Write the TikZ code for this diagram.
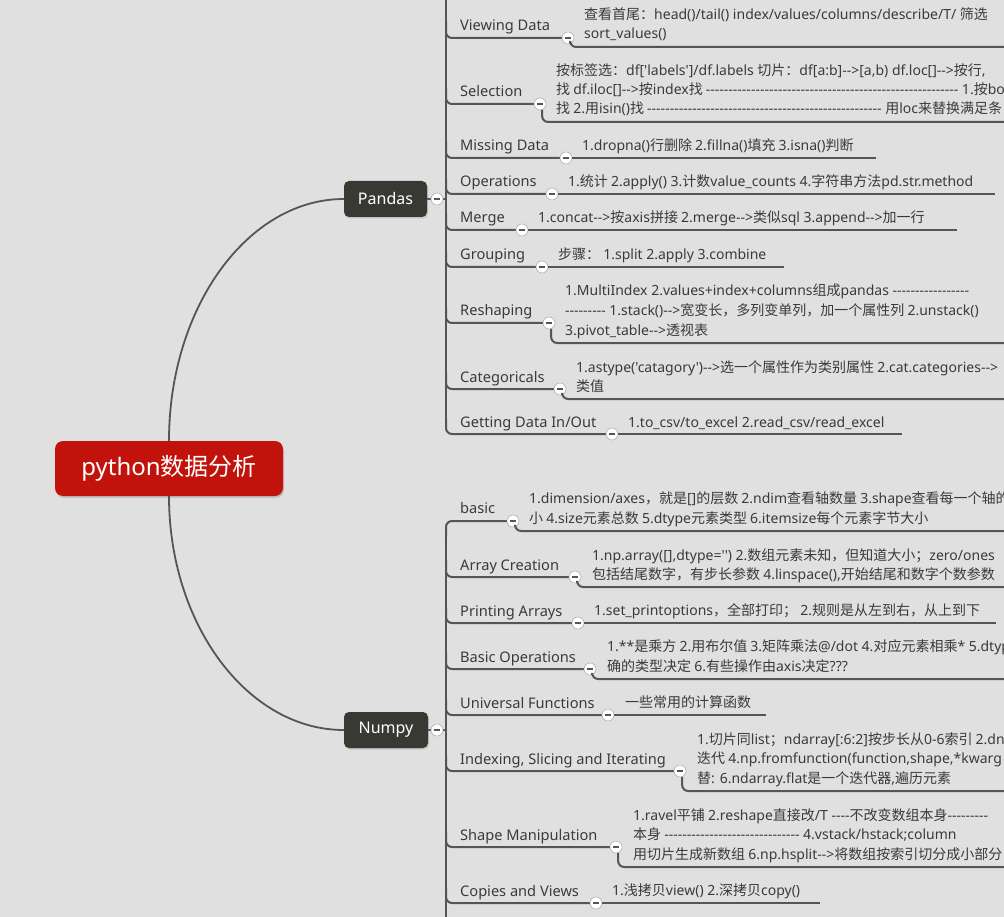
\documentclass[tikz,border=0pt]{standalone}
\usepackage{fontspec}
\setmainfont{Noto Sans}[Ligatures=TeXOff]
\newfontfamily\latf{Noto Sans}[Ligatures=TeXOff]
\newfontfamily\cjkf{Noto Sans CJK SC}[Ligatures=TeXOff]
\XeTeXinterchartokenstate=1
\newXeTeXintercharclass\cjkcls
\newcount\cjkc
\def\cjkrange#1#2{\cjkc=#1\relax\loop\XeTeXcharclass\cjkc=\cjkcls\relax\advance\cjkc by 1\relax\ifnum\cjkc<#2\relax\repeat}
\cjkrange{"3000}{"3040}
\cjkrange{"4E00}{"A000}
\cjkrange{"FF00}{"FFF0}
\XeTeXinterchartoks 0 \cjkcls = {\cjkf}
\XeTeXinterchartoks 4095 \cjkcls = {\cjkf}
\XeTeXinterchartoks \cjkcls 0 = {\latf}
\XeTeXinterchartoks 4095 0 = {\latf}
\usetikzlibrary{shadows}
\definecolor{bg}{HTML}{E0E0E0}
\definecolor{ln}{HTML}{555555}
\definecolor{tx}{HTML}{3A3A3A}
\definecolor{rootred}{HTML}{C1130B}
\definecolor{dark}{HTML}{393934}
\tikzset{
  br/.style={draw=ln, line width=2pt},
  lbl/.style={font=\fontsize{14.6}{14.6}\selectfont, text=tx, inner sep=0pt, anchor=base west},
  dsc/.style={font=\fontsize{14}{14}\selectfont, text=tx, inner sep=0pt, anchor=base west, yshift=-1.5pt},
  btn/.style={circle, fill=white, draw=black!30, line width=0.6pt, minimum size=12pt, inner sep=0pt,
    path picture={\draw[ln, line width=1.7pt] ([xshift=-3.3pt]path picture bounding box.center) -- ([xshift=3.3pt]path picture bounding box.center);}},
  topic/.style={rounded corners=5pt, fill=dark, text=white, font=\fontsize{16}{16}\selectfont, inner sep=0pt,
    minimum height=36pt, drop shadow={opacity=0.3, shadow xshift=1pt, shadow yshift=-1.5pt}},
  rootbox/.style={rounded corners=8pt, fill=rootred, text=white, font=\fontsize{24}{24}\selectfont, inner sep=0pt,
    minimum width=228pt, minimum height=55pt, drop shadow={opacity=0.3, shadow xshift=1pt, shadow yshift=-2pt}},
}
\newcommand\kid[4]{%
  \draw[br, rounded corners=6pt] (446,#2-16) |- (#4,#2);
  \node[lbl] (#1) at (460,#2-7) {#3};
  \node[btn] (#1b) at (#4,#2) {};
}
\newcommand\single[3]{\draw[br] (#1b) -- (#3,#2);}
\newcommand\multi[2]{\draw[br, rounded corners=6pt] (#1b.-70) |- (1012,#2);}
\begin{document}
\begin{tikzpicture}[x=1pt,y=-1pt]
\useasboundingbox (0,0) rectangle (1004,917);
\fill[bg] (0,0) rectangle (1004,917);

% root and topics
\node[rootbox] (root) at (169,468.5) {python数据分析};
\node[topic, minimum width=83pt] (pandas) at (385.5,199) {Pandas};
\node[topic, minimum width=84pt] (numpy) at (386,730) {Numpy};
\draw[ln, line width=1.8pt] (root.north) .. controls (169,307) and (248,199) .. (pandas.west);
\draw[ln, line width=1.8pt] (root.south) .. controls (169,625) and (248,730) .. (numpy.west);

% Pandas spine
\draw[br] (446,-5) -- (446,420);
\draw[br] (pandas.east) -- (446,199);
\node[btn] (pandasb) at (437,199) {};

\kid{vd}{38}{Viewing Data}{568}
\node[dsc] (vd1) at (584,18.5) {查看首尾：head()/tail() index/values/columns/describe/T/ 筛选};
\node[dsc] (vd2) at (584,37.5) {sort\_values()};
\multi{vd}{47}

\kid{sel}{104}{Selection}{540}
\node[dsc] (sel1) at (556,74.5) {按标签选：df['labels']/df.labels 切片：df[a:b]-->[a,b) df.loc[]-->按行,};
\node[dsc] (sel2) at (556,93.5) {找 df.iloc[]-->按index找 -------------------------------------------------------- 1.按boo};
\node[dsc] (sel3) at (556,112.5) {找 2.用isin()找 ---------------------------------------------------- 用loc来替换满足条};
\multi{sel}{122}

\kid{md}{158}{Missing Data}{566}
\node[dsc] (md1) at (582,149.5) {1.dropna()行删除 2.fillna()填充 3.isna()判断};
\single{md}{158}{876}

\kid{op}{194}{Operations}{552}
\node[dsc] (op1) at (568,185.5) {1.统计 2.apply() 3.计数value\_counts 4.字符串方法pd.str.method};
\single{op}{194}{995}

\kid{mg}{230}{Merge}{522}
\node[dsc] (mg1) at (538,221.5) {1.concat-->按axis拼接 2.merge-->类似sql 3.append-->加一行};
\single{mg}{230}{957}

\kid{gp}{267}{Grouping}{542}
\node[dsc] (gp1) at (558,258) {步骤： 1.split 2.apply 3.combine};
\single{gp}{267}{784}

\kid{rs}{323}{Reshaping}{549}
\node[dsc] (rs1) at (565,294.5) {1.MultiIndex 2.values+index+columns组成pandas -----------------};
\node[dsc] (rs2) at (565,314) {--------- 1.stack()-->宽变长，多列变单列，加一个属性列 2.unstack()};
\node[dsc] (rs3) at (565,333.5) {3.pivot\_table-->透视表};
\multi{rs}{343}

\kid{ct}{389}{Categoricals}{560}
\node[dsc] (ct1) at (576,370.5) {1.astype('catagory')-->选一个属性作为类别属性 2.cat.categories-->};
\node[dsc] (ct2) at (576,389.5) {类值};
\multi{ct}{399}

\kid{gd}{434}{Getting Data In/Out}{612}
\node[dsc] (gd1) at (628,425.5) {1.to\_csv/to\_excel 2.read\_csv/read\_excel};
\single{gd}{434}{902}

% Numpy spine
\draw[br] (446,530) -- (446,925);
\draw[br] (numpy.east) -- (446,730);
\node[btn] (numpyb) at (437,730) {};

\draw[br, rounded corners=6pt] (446,537) |- (513,521);
\node[lbl] (ba) at (460,513) {basic};
\node[btn] (bab) at (513,521) {};
\node[dsc] (ba1) at (529,501.5) {1.dimension/axes，就是[]的层数 2.ndim查看轴数量 3.shape查看每一个轴的};
\node[dsc] (ba2) at (529,521.5) {小 4.size元素总数 5.dtype元素类型 6.itemsize每个元素字节大小};
\multi{ba}{531}

\kid{ac}{577}{Array Creation}{575}
\node[dsc] (ac1) at (592,558.5) {1.np.array([],dtype='') 2.数组元素未知，但知道大小；zero/ones};
\node[dsc] (ac2) at (592,577.5) {包括结尾数字，有步长参数 4.linspace(),开始结尾和数字个数参数};
\multi{ac}{587}

\kid{pa}{623}{Printing Arrays}{578}
\node[dsc] (pa1) at (594,613.5) {1.set\_printoptions，全部打印； 2.规则是从左到右，从上到下};
\single{pa}{623}{996}

\kid{bo}{669}{Basic Operations}{590}
\node[dsc] (bo1) at (607,649.5) {1.**是乘方 2.用布尔值 3.矩阵乘法@/dot 4.对应元素相乘* 5.dtyp};
\node[dsc] (bo2) at (607,669.5) {确的类型决定 6.有些操作由axis决定???};
\multi{bo}{679}

\kid{uf}{715}{Universal Functions}{608}
\node[dsc] (uf1) at (625,705.5) {一些常用的计算函数};
\single{uf}{715}{766}

\kid{ix}{771}{Indexing, Slicing and Iterating}{680}
\node[dsc] (ix1) at (697,742.5) {1.切片同list；ndarray[:6:2]按步长从0-6索引 2.dn};
\node[dsc] (ix2) at (697,761.5) {迭代 4.np.fromfunction(function,shape,*kwarg};
\node[dsc] (ix3) at (697,781.5) {替: 6.ndarray.flat是一个迭代器,遍历元素};
\multi{ix}{791}

\kid{sm}{847}{Shape Manipulation}{616}
\node[dsc] (sm1) at (633,818.5) {1.ravel平铺 2.reshape直接改/T ----不改变数组本身---------};
\node[dsc] (sm2) at (633,837.5) {本身 ------------------------------ 4.vstack/hstack;column};
\node[dsc] (sm3) at (633,857.5) {用切片生成新数组 6.np.hsplit-->将数组按索引切分成小部分};
\multi{sm}{867}

\kid{cv}{903}{Copies and Views}{596}
\node[dsc] (cv1) at (612,893.5) {1.浅拷贝view() 2.深拷贝copy()};
\single{cv}{903}{820}
\end{tikzpicture}
\end{document}
